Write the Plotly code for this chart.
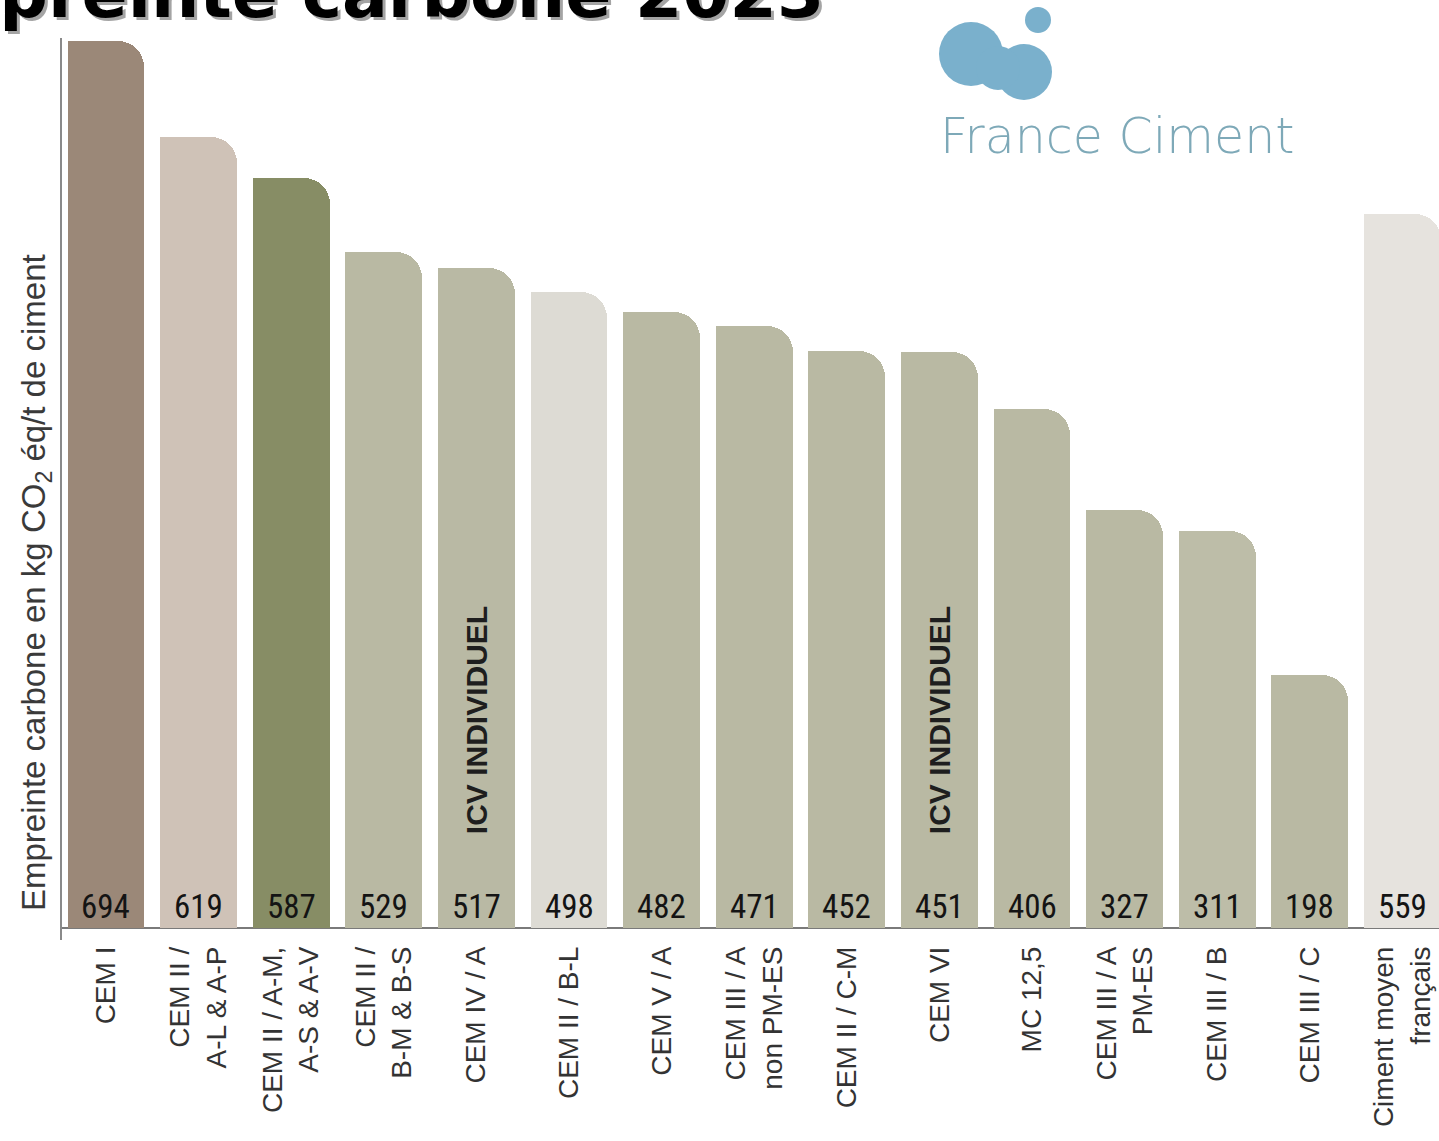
import plotly.graph_objects as go

# ---- data ----
categories = [
    "CEM I",
    "CEM II /<br>A-L & A-P",
    "CEM II / A-M,<br>A-S & A-V",
    "CEM II /<br>B-M & B-S",
    "CEM IV / A",
    "CEM II / B-L",
    "CEM V / A",
    "CEM III / A<br>non PM-ES",
    "CEM II / C-M",
    "CEM VI",
    "MC 12,5",
    "CEM III / A<br>PM-ES",
    "CEM III / B",
    "CEM III / C",
    "Ciment moyen<br>français",
]
values = [694, 619, 587, 529, 517, 498, 482, 471, 452, 451, 406, 327, 311, 198, 559]
bar_colors = ["#9b8878", "#cfc2b7", "#878d65", "#b9b9a3", "#b9b9a4", "#dddbd4",
              "#b9b9a3", "#b9b9a3", "#b9b9a3", "#b9b9a3", "#b9b9a3", "#b9b9a3",
              "#bdbda8", "#b9b9a3", "#e6e3de"]
icv_categories = ["CEM IV / A", "CEM VI"]
icv_label = "ICV INDIVIDUEL"
icv_label_value = 163
title_text = "Empreinte carbone 2023"
y_title = "Empreinte carbone en kg CO<sub>2</sub> éq/t de ciment"
logo_text = "France Ciment"

W, H = 1439, 1141
BAR_W = 0.83
NARROW = "Liberation Sans Narrow, Arial Narrow, Roboto Condensed, Liberation Sans, Arial"
SANS = "Liberation Sans, Arial, sans-serif"

fig = go.Figure()
# rounded full-width bars (top corners rounded)
fig.add_trace(go.Bar(
    x=categories, y=values, width=BAR_W,
    marker=dict(color=bar_colors, cornerradius=26, line=dict(width=0)),
    hoverinfo="skip", showlegend=False,
))
# left half bars to square off the top-left corner
fig.add_trace(go.Bar(
    x=categories, y=values, width=BAR_W / 2, offset=-BAR_W / 2,
    marker=dict(color=bar_colors, line=dict(width=0)),
    hoverinfo="skip", showlegend=False,
))

# value labels at bar base
for c, v in zip(categories, values):
    fig.add_annotation(x=c, y=0, yanchor="bottom", yshift=0, text=str(v),
                       showarrow=False, font=dict(family=NARROW, size=33, color="#141414"))

# ICV INDIVIDUEL labels
for c in icv_categories:
    fig.add_annotation(x=c, y=icv_label_value, text=f"<b>{icv_label}</b>", textangle=-90,
                       showarrow=False, font=dict(family=SANS, size=30, color="#1e1e1e"))

# title (partially cut at top) with shadow
px_x = lambda p: p / W
px_y = lambda p: 1 - p / H
for dx, dy, col in [(3, 3, "rgba(90,90,90,0.55)"), (0, 0, "#000000")]:
    fig.add_annotation(xref="paper", yref="paper", x=px_x(826), y=px_y(35),
                       xanchor="right", yanchor="bottom", xshift=dx, yshift=-dy,
                       text=f"<b>{title_text}</b>", showarrow=False,
                       font=dict(family="DejaVu Sans", size=68, color=col))

# logo
logo_col = "#7ab0cc"
for cx, cy, r in [(971, 54, 32), (1024, 72, 28), (998, 68, 22), (1038, 20, 13)]:
    fig.add_shape(type="circle", xref="paper", yref="paper",
                  x0=px_x(cx - r), x1=px_x(cx + r), y0=px_y(cy + r), y1=px_y(cy - r),
                  fillcolor=logo_col, line=dict(width=0), layer="above")
fig.add_annotation(xref="paper", yref="paper", x=px_x(1117), y=px_y(137),
                   xanchor="center", yanchor="middle", text=logo_text, showarrow=False,
                   font=dict(family="DejaVu Sans", size=49, color="#7ea9b8", weight=200))

# y title
fig.add_annotation(xref="paper", yref="paper", x=px_x(36), y=px_y(583),
                   xanchor="center", yanchor="middle", text=y_title, textangle=-90,
                   showarrow=False, font=dict(family=SANS, size=33, color="#3a3a3a"))

ppu = 1.2775
base_px = 928
y_top_px, y_bot_px = 38, 940
fig.update_layout(
    width=W, height=H,
    margin=dict(l=0, r=0, t=0, b=0),
    paper_bgcolor="white", plot_bgcolor="white",
    barmode="overlay", bargap=0,
    xaxis=dict(domain=[62 / W, 1], range=[-0.475, 14.395], showgrid=False,
               showline=False, zeroline=False, ticks="", tickangle=-90,
               tickfont=dict(family=SANS, size=28, color="#333333"), fixedrange=True),
    yaxis=dict(domain=[1 - y_bot_px / H, 1 - y_top_px / H],
               range=[-(y_bot_px - base_px) / ppu, (base_px - y_top_px) / ppu],
               showgrid=False, showticklabels=False, ticks="",
               showline=True, linecolor="#8a8a8a", linewidth=2,
               zeroline=True, zerolinecolor="#7a7a7a", zerolinewidth=2, fixedrange=True),
    showlegend=False,
)

fig.write_html("out.html")
